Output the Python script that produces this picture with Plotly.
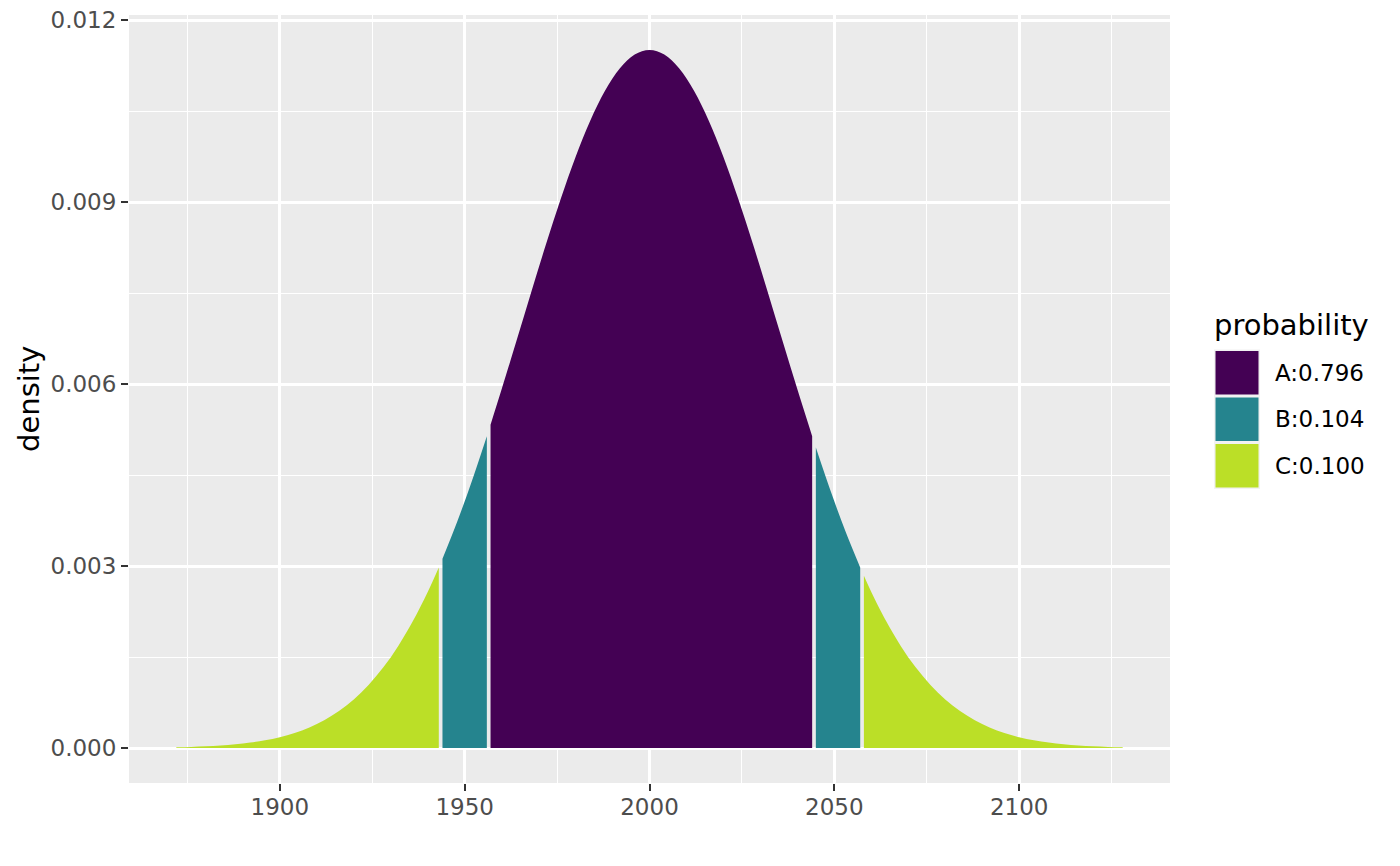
import plotly.graph_objects as go

# ---- data ----
groups = ["A", "B", "C"]
probabilities = [0.796, 0.104, 0.100]
group_colors = ["#440154", "#25848E", "#BBDF27"]

# region C (left tail)
c_left_x = [1872, 1876, 1880, 1884, 1888, 1892, 1896, 1900, 1904, 1908, 1912,
            1916, 1920, 1924, 1928, 1932, 1936, 1940, 1943]
c_left_y = [0.0000126, 0.0000191, 0.0000287, 0.0000425, 0.0000622, 0.0000897,
            0.000128, 0.000179, 0.000249, 0.000340, 0.000458, 0.000610,
            0.000802, 0.001040, 0.001331, 0.001680, 0.002093, 0.002573, 0.002978]
# region B (left)
b_left_x = [1944, 1948, 1952, 1956]
b_left_y = [0.003121, 0.003735, 0.004412, 0.005142]
# region A (centre)
a_x = [1957, 1960, 1964, 1968, 1972, 1976, 1980, 1984, 1988, 1992, 1996, 2000,
       2004, 2008, 2012, 2016, 2020, 2024, 2028, 2032, 2036, 2040, 2044]
a_y = [0.005332, 0.005914, 0.006711, 0.007516, 0.008305, 0.009056, 0.009745,
       0.010347, 0.010840, 0.011207, 0.011434, 0.011510, 0.011434, 0.011207,
       0.010840, 0.010347, 0.009745, 0.009056, 0.008305, 0.007516, 0.006711,
       0.005914, 0.005142]
# region B (right)
b_right_x = [2045, 2049, 2053, 2057]
b_right_y = [0.004955, 0.004237, 0.003575, 0.002978]
# region C (right tail)
c_right_x = [2058, 2060, 2064, 2068, 2072, 2076, 2080, 2084, 2088, 2092, 2096,
             2100, 2104, 2108, 2112, 2116, 2120, 2124, 2128]
c_right_y = [0.002839, 0.002573, 0.002093, 0.001680, 0.001331, 0.001040,
             0.000802, 0.000610, 0.000458, 0.000340, 0.000249, 0.000179,
             0.000128, 0.0000897, 0.0000622, 0.0000425, 0.0000287, 0.0000191,
             0.0000126]

x_ticks = [1900, 1950, 2000, 2050, 2100]
y_ticks = [0.000, 0.003, 0.006, 0.009, 0.012]

FONT = "DejaVu Sans"
OFF = 8                      # default page body margin
W, H = 1400 - 2 * OFF, 866 - 2 * OFF
PL, PR, PT, PB = 129, 1170, 15, 783  # panel box in screen pixels


def px_x(p):
    return (p - PL) / (PR - PL)


def px_y(p):
    return (PB - p) / (PB - PT)


fig = go.Figure()

pieces = [
    (c_left_x, c_left_y, 2),
    (b_left_x, b_left_y, 1),
    (a_x, a_y, 0),
    (b_right_x, b_right_y, 1),
    (c_right_x, c_right_y, 2),
]
for xs, ys, gi in pieces:
    fig.add_trace(go.Scatter(
        x=xs, y=ys, mode="lines",
        line=dict(width=0, shape="spline", color=group_colors[gi]),
        fill="tozeroy", fillcolor=group_colors[gi],
        name=f"{groups[gi]}:{probabilities[gi]:.3f}",
        showlegend=False, hoverinfo="x+y",
    ))

axis_common = dict(
    showline=False, zeroline=False, automargin=False,
    showgrid=True, gridcolor="white", gridwidth=2.6,
    ticks="outside", ticklen=7, tickwidth=2, tickcolor="#333333",
    tickfont=dict(family=FONT, size=23, color="#4D4D4D"),
    ticklabeloverflow="allow",
)

fig.update_xaxes(
    range=[1859.2, 2140.8], tickvals=x_ticks,
    ticktext=[str(v) for v in x_ticks],
    ticklabelstandoff=-4,
    minor=dict(tickvals=[1875, 1925, 1975, 2025, 2075, 2125], showgrid=True,
               gridcolor="white", gridwidth=1.3),
    **axis_common,
)
fig.update_yaxes(
    range=[-0.000576, 0.012086], tickvals=y_ticks,
    ticktext=[f"{v:.3f}" for v in y_ticks],
    minor=dict(tickvals=[0.0015, 0.0045, 0.0075, 0.0105], showgrid=True,
               gridcolor="white", gridwidth=1.3),
    **axis_common,
)

shapes = []
annotations = []

# y-axis title
annotations.append(dict(
    xref="paper", yref="paper", x=px_x(29), y=0.5, text="density",
    textangle=-90, showarrow=False, xanchor="center", yanchor="middle",
    font=dict(family=FONT, size=29, color="black"),
))

# legend
annotations.append(dict(
    xref="paper", yref="paper", x=px_x(1212), y=px_y(325), text="probability",
    showarrow=False, xanchor="left", yanchor="middle",
    font=dict(family=FONT, size=29, color="black"),
))
shapes.append(dict(
    type="rect", xref="paper", yref="paper", layer="above",
    x0=px_x(1214), x1=px_x(1260), y0=px_y(349.5), y1=px_y(489),
    fillcolor="#F2F2F2", line=dict(width=0),
))
key_tops = [351, 397.5, 444]
for i, g in enumerate(groups):
    top = key_tops[i]
    shapes.append(dict(
        type="rect", xref="paper", yref="paper", layer="above",
        x0=px_x(1215.5), x1=px_x(1258.5), y0=px_y(top), y1=px_y(top + 43.5),
        fillcolor=group_colors[i], line=dict(width=0),
    ))
    annotations.append(dict(
        xref="paper", yref="paper", x=px_x(1273), y=px_y(top + 22),
        text=f"{g}:{probabilities[i]:.3f}", showarrow=False,
        xanchor="left", yanchor="middle",
        font=dict(family=FONT, size=23, color="black"),
    ))

fig.update_layout(
    width=W, height=H, autosize=False,
    margin=dict(l=PL - OFF, r=W - (PR - OFF), t=PT - OFF, b=H - (PB - OFF), pad=0),
    paper_bgcolor="white", plot_bgcolor="#EBEBEB",
    font=dict(family=FONT),
    showlegend=False,
    shapes=shapes, annotations=annotations,
)

fig.write_html("out.html")
